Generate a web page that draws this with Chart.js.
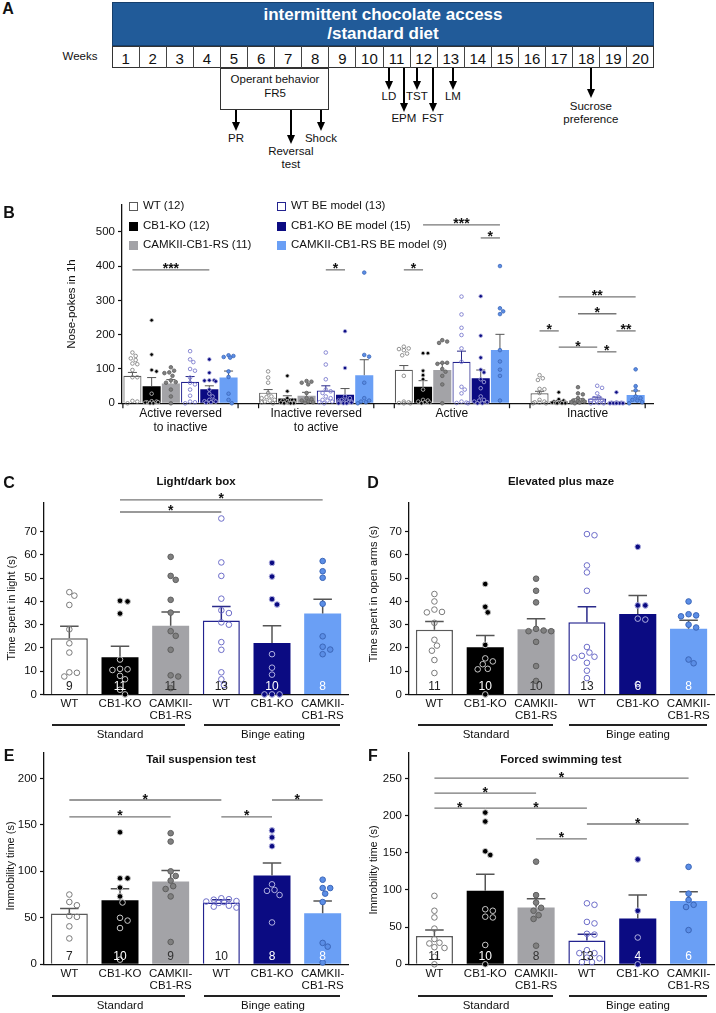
<!DOCTYPE html>
<html>
<head>
<meta charset="utf-8">
<title>Binge eating figure</title>
<script src="https://cdn.jsdelivr.net/npm/chart.js@4.4.1/dist/chart.umd.min.js"></script>
<style>
  body { margin: 0; background: #fff; }
  #fig { position: relative; width: 716px; height: 1013px; overflow: hidden;
         font-family: "Liberation Sans", Arial, Helvetica, sans-serif; color: #111; }
  .t { position: absolute; white-space: nowrap; transform: translate(-50%, -50%); line-height: 1; }
  .tl { position: absolute; white-space: nowrap; transform: translateY(-50%); line-height: 1; }
  .yt { position: absolute; white-space: nowrap; transform: translate(-50%, -50%) rotate(-90deg); line-height: 1; }
  .bx { position: absolute; box-sizing: border-box; }
  canvas { position: absolute; }
</style>
</head>
<body>
<div id="fig">
  <canvas id="chartB" width="716" height="250" style="left:0;top:190px;width:716px;height:250px"></canvas>
  <canvas id="chartC" width="356" height="260" style="left:0;top:470px;width:356px;height:260px"></canvas>
  <canvas id="chartD" width="360" height="260" style="left:356px;top:470px;width:360px;height:260px"></canvas>
  <canvas id="chartE" width="356" height="260" style="left:0;top:740px;width:356px;height:260px"></canvas>
  <canvas id="chartF" width="360" height="260" style="left:356px;top:740px;width:360px;height:260px"></canvas>
</div>
<script>
// Grupos y etiquetas
const groupNames = ['WT', 'CB1-KO', 'CAMKII-CB1-RS', 'WT BE model', 'CB1-KO BE model', 'CAMKII-CB1-RS BE model'];
const legendN = [12, 12, 11, 13, 15, 9];
const xTickLabels = ['WT', 'CB1-KO', ['CAMKII-', 'CB1-RS'], 'WT', 'CB1-KO', ['CAMKII-', 'CB1-RS']];
const dietLabels = ['Standard', 'Binge eating'];
const weeks = [1, 2, 3, 4, 5, 6, 7, 8, 9, 10, 11, 12, 13, 14, 15, 16, 17, 18, 19, 20];

// Panel B: nose-pokes in 1h
const bMeasures = [['Active reversed', 'to inactive'], ['Inactive reversed', 'to active'], 'Active', 'Inactive'];
const bMeans = [
    [80, 31, 98, 29],
    [50, 14, 48, 5],
    [58, 22, 97, 9],
    [63, 37, 121, 14],
    [41, 25, 73, 3],
    [75, 82, 155, 24]
];
const bSem = [
    [10, 9, 12, 6],
    [25, 8, 18, 3],
    [11, 10, 20, 4],
    [15, 14, 31, 4],
    [10, 18, 24, 2],
    [19, 45, 46, 12]
];
const bActiveReversed = [
    [148, 138, 131, 126, 116, 114, 97, 76, 76, 7, 5, 0],
    [242, 142, 97, 93, 28, 6, 5, 3, 3, 2, 0, 0],
    [105, 95, 90, 88, 80, 67, 62, 60, 40, 20, 0],
    [152, 128, 120, 100, 95, 75, 60, 55, 40, 22, 5, 3, 0],
    [128, 89, 67, 67, 66, 64, 40, 28, 20, 10, 8, 6, 5, 3, 2],
    [140, 138, 135, 133, 93, 77, 28, 10, 0]
];
const bInactiveReversed = [
    [93, 75, 60, 30, 20, 18, 15, 10, 8, 5, 3, 0],
    [80, 35, 15, 10, 8, 5, 3, 2, 1, 0, 0, 0],
    [65, 63, 60, 55, 30, 15, 12, 8, 5, 3, 2],
    [148, 113, 70, 40, 35, 30, 20, 15, 10, 8, 5, 3, 0],
    [210, 103, 20, 15, 10, 8, 8, 5, 5, 3, 3, 2, 0, 0, 0],
    [381, 141, 136, 60, 15, 8, 5, 3, 0]
];
const bActive = [
    [165, 160, 158, 155, 145, 140, 80, 5, 3, 1, 0, 0],
    [146, 146, 95, 82, 70, 40, 10, 8, 5, 3, 2, 0],
    [184, 180, 176, 118, 118, 115, 100, 92, 80, 55, 0],
    [311, 259, 220, 199, 160, 121, 48, 40, 29, 5, 2, 1, 0],
    [312, 197, 133, 98, 90, 70, 62, 44, 20, 10, 8, 5, 3, 0, 0],
    [400, 277, 268, 260, 155, 122, 98, 80, 8]
];
const bInactive = [
    [82, 73, 68, 42, 41, 30, 10, 5, 3, 2, 0, 0],
    [32, 12, 8, 5, 3, 3, 2, 2, 1, 0, 0, 0],
    [47, 29, 26, 15, 10, 8, 6, 5, 3, 2, 0],
    [51, 45, 29, 18, 15, 10, 8, 5, 3, 2, 1, 0, 0],
    [32, 3, 2, 2, 1, 1, 1, 0, 0, 0, 0, 0, 0, 0, 0],
    [99, 50, 38, 20, 15, 10, 8, 3, 0]
];
// [medida, grupo desde, grupo hasta, altura, etiqueta]
const bSig = [
    [0, 0, 4, 389, '***'], [1, 3, 4, 389, '*'], [2, 0, 1, 389, '*'],
    [2, 1, 5, 520, '***'], [2, 4, 5, 482, '*'],
    [3, 1, 5, 310, '**'], [3, 2, 4, 261, '*'], [3, 0, 1, 211, '*'],
    [3, 4, 5, 211, '**'], [3, 1, 3, 164, '*'], [3, 3, 4, 150, '*']
];

// Panel C: light/dark box
const cMeans = [24.2, 16, 29.5, 31.8, 22.1, 34.8];
const cSem = [5.1, 4.7, 6.0, 6.0, 7.4, 6.2];
const cPoints = [
    [44, 42.5, 38.5, 28, 22, 18, 9.5, 9.3, 7.7],
    [40.3, 40, 34.8, 15, 11, 10.8, 10.5, 8, 6.5, 2, 0],
    [59.2, 51, 49.3, 40.7, 35.2, 27.2, 25.2, 19.2, 8.2, 7.7, 2.7],
    [75.7, 56.8, 51, 41.2, 36.2, 35, 31, 30, 22.5, 19.2, 9.5, 6.5, 4],
    [56.6, 50.7, 41, 38.7, 17.3, 11.5, 8.5, 0, 0, 0],
    [57.4, 53, 50.2, 39, 25, 20.5, 19.3, 17.3]
];
const cSig = [[1, 3, 78.5, '*'], [1, 5, 83.7, '*']];

// Panel D: elevated plus maze
const dMeans = [27.8, 20.3, 28, 31.1, 34.6, 28.3];
const dSem = [3.6, 5.0, 4.6, 6.6, 8.0, 3.6];
const dPoints = [
    [43.2, 40, 36.5, 35.5, 35.3, 30.8, 23.5, 21, 18.8, 14.8, 9.2],
    [47.5, 37.7, 35.3, 21.3, 15.5, 14.2, 13, 11, 10.8, 0],
    [49.8, 44.6, 39.6, 28.2, 27.5, 27.2, 27.2, 22.6, 12.2, 5.8],
    [69, 68.5, 55.5, 52.5, 44.6, 20.4, 18, 16.6, 16.2, 15.8, 13.6, 10.2, 7],
    [63.5, 38.3, 38.3, 32.6, 32.2, 4.5],
    [40, 34.5, 34, 33.6, 30, 28.8, 15, 13.4]
];
const dSig = [];

// Panel E: tail suspension test
const eMeans = [54.5, 69, 89, 66.5, 95.5, 55];
const eSem = [5.5, 12.3, 12, 3, 13.5, 13];
const ePoints = [
    [75, 67, 63.5, 52, 51, 40.8, 27.8],
    [142, 92.5, 92.5, 82.5, 73, 66.5, 50, 47, 39, 5],
    [141, 132, 100, 95, 90, 84, 81, 73, 24],
    [71, 70, 69.5, 68, 67.5, 67, 66, 63, 62, 61],
    [144, 136.5, 127, 86, 80, 79, 74.5, 45],
    [91, 82, 82, 76, 67, 23, 19, 2]
];
const eSig = [[0, 3, 176.7, '*'], [0, 2, 158.6, '*'], [3, 4, 158.6, '*'], [4, 5, 176.7, '*']];

// Panel F: forced swimming test
const fMeans = [38, 99, 76.5, 32, 61.5, 85];
const fSem = [8, 22, 11.5, 8.5, 31.5, 12.5];
const fPoints = [
    [92, 72, 63, 48, 34, 29, 28, 23, 22, 10, 0],
    [204, 192, 152, 147, 74, 72, 64, 63, 26, 0],
    [138, 93, 83, 76, 72, 66, 61, 25],
    [82, 80, 57, 55, 41, 40, 19, 15, 15, 9, 8, 3, 3],
    [141, 72, 36, 0],
    [131, 95, 86.5, 80, 77, 46]
];
const fSig = [[0, 5, 250.4, '*'], [0, 2, 230.2, '*'], [0, 1, 210, '*'], [1, 3, 210, '*'], [2, 3, 168.7, '*'], [3, 5, 188.6, '*']];

// Estilos por grupo
const groupFill = ['#ffffff', '#000000', '#a3a3a7', '#ffffff', '#0b0b82', '#6a9ff5'];
const groupEdge = ['#5a5a5a', '#000000', '#a3a3a7', '#23238f', '#0b0b82', '#6a9ff5'];
const groupEdgeW = [1.5, 0, 0, 1.5, 0, 0];
const dotFill = [null, '#000000', '#808080', null, '#0b0b82', '#5b8ee6'];
const dotEdge = ['#7a7a7a', '#c8c8c8', '#5e5e5e', '#6d6dc9', '#b0b0e0', '#3b66b8'];
const nColor = ['#222', '#fff', '#333', '#222', '#fff', '#fff'];
const errColor = ['#555', '#555', '#555', '#2a2a8a', '#555', '#555'];

const FONT = '"Liberation Sans", Arial, Helvetica, sans-serif';
Chart.defaults.font.family = FONT;
Chart.defaults.color = '#111';

const fig = document.getElementById('fig');

function text(str, cx, cy, style, cls) {
    const el = document.createElement('div');
    el.className = cls || 't';
    el.textContent = str;
    el.style.left = cx + 'px';
    el.style.top = cy + 'px';
    Object.assign(el.style, style || {});
    fig.appendChild(el);
    return el;
}
function rect(x, y, w, h, style) {
    const el = document.createElement('div');
    el.className = 'bx';
    Object.assign(el.style, { left: x + 'px', top: y + 'px', width: w + 'px', height: h + 'px' }, style || {});
    fig.appendChild(el);
    return el;
}
function arrow(x, y1, y2) {
    rect(x - 0.8, y1, 1.6, y2 - y1 - 7, { background: '#000' });
    rect(x - 4, y2 - 9, 0, 0, { borderLeft: '4px solid transparent', borderRight: '4px solid transparent', borderTop: '9px solid #000' });
}

// ---------- Panel A: linea de tiempo ----------
const weekLeft = 112, weekWidth = 27.1, weekTop = 46, weekHeight = 22;
text('A', 8, 9, { fontWeight: 'bold', fontSize: '16px' });
rect(weekLeft, 2, weekWidth * weeks.length, 44, { background: '#215b99', border: '1px solid #163f6c' });
text('intermittent chocolate access', weekLeft + weekWidth * 10, 14, { color: '#fff', fontWeight: 'bold', fontSize: '17px' });
text('/standard diet', weekLeft + weekWidth * 10, 33, { color: '#fff', fontWeight: 'bold', fontSize: '17px' });
rect(weekLeft, weekTop, weekWidth * weeks.length, weekHeight, { border: '1px solid #333', background: '#fff' });
weeks.forEach((w, i) => {
    if (i > 0) rect(weekLeft + i * weekWidth - 0.5, weekTop, 1, weekHeight, { background: '#444' });
    text(String(w), weekLeft + (i + 0.5) * weekWidth, weekTop + 11.5, { fontSize: '15px' });
});
text('Weeks', 80, 57, { fontSize: '11.5px' });
rect(weekLeft + 4 * weekWidth, 68, 4 * weekWidth, 42, { border: '1px solid #333', background: '#fff' });
text('Operant behavior', 275, 80, { fontSize: '11.5px' });
text('FR5', 275, 94, { fontSize: '11.5px' });

const sessions = [
    { at: 5.58, from: 110, to: 131, lines: ['PR'], y: 139 },
    { at: 7.6, from: 110, to: 144, lines: ['Reversal', 'test'], y: 152 },
    { at: 8.71, from: 110, to: 131, lines: ['Shock'], y: 139 },
    { at: 11.22, from: 68, to: 90, lines: ['LD'], y: 97 },
    { at: 11.77, from: 68, to: 112, lines: ['EPM'], y: 119 },
    { at: 12.25, from: 68, to: 90, lines: ['TST'], y: 97 },
    { at: 12.84, from: 68, to: 112, lines: ['FST'], y: 119 },
    { at: 13.58, from: 68, to: 90, lines: ['LM'], y: 97 },
    { at: 18.67, from: 68, to: 98, lines: ['Sucrose', 'preference'], y: 107 }
];
sessions.forEach(s => {
    const x = weekLeft + (s.at - 1) * weekWidth;
    arrow(x, s.from, s.to);
    s.lines.forEach((l, k) => text(l, x, s.y + k * 12.8, { fontSize: '11.5px' }));
});

// ---------- Textos de paneles ----------
text('B', 9, 213, { fontWeight: 'bold', fontSize: '16px' });
text('C', 9, 483, { fontWeight: 'bold', fontSize: '16px' });
text('D', 373, 483, { fontWeight: 'bold', fontSize: '16px' });
text('E', 9, 756, { fontWeight: 'bold', fontSize: '16px' });
text('F', 373, 756, { fontWeight: 'bold', fontSize: '16px' });
text('Light/dark box', 196, 482, { fontWeight: 'bold', fontSize: '11.5px' });
text('Elevated plus maze', 561, 482, { fontWeight: 'bold', fontSize: '11.5px' });
text('Tail suspension test', 201, 760, { fontWeight: 'bold', fontSize: '11.5px' });
text('Forced swimming test', 561, 760, { fontWeight: 'bold', fontSize: '11.5px' });
text('Nose-pokes in 1h', 72, 304, { fontSize: '11.5px' }, 'yt');
text('Time spent in light (s)', 11, 608, { fontSize: '11px' }, 'yt');
text('Time spent in open arms (s)', 373, 594, { fontSize: '11px' }, 'yt');
text('Immobility time (s)', 10, 866, { fontSize: '11px' }, 'yt');
text('Immobility time (s)', 373, 870, { fontSize: '11px' }, 'yt');

// Leyenda B
const legendCols = [[0, 1, 2], [3, 4, 5]];
const legendX = [129, 277];
const legendY = [206, 226, 245];
legendCols.forEach((col, c) => col.forEach((g, r) => {
    rect(legendX[c], legendY[r] - 4.5, 9, 9, {
        background: groupFill[g],
        border: groupEdgeW[g] ? '1.5px solid ' + groupEdge[g] : 'none'
    });
    text(groupNames[g] + ' (' + legendN[g] + ')', legendX[c] + 14, legendY[r], { fontSize: '11.5px' }, 'tl');
}));

// Dieta bajo C-F
function dietRow(lines, labelX, y) {
    lines.forEach((ln, k) => {
        rect(ln[0], y - 1, ln[1] - ln[0], 2, { background: '#222' });
        text(dietLabels[k], labelX[k], y + 10, { fontSize: '11.5px' });
    });
}
dietRow([[52, 185], [204, 340]], [120, 273], 725);
dietRow([[418, 553], [569, 707]], [486, 638], 725);
dietRow([[52, 185], [204, 340]], [120, 273], 996);
dietRow([[418, 553], [569, 707]], [486, 638], 996);

// ---------- Plugin: puntos, error, significancia ----------
function swarm(ys, r, hw) {
    const order = ys.map((y, i) => i).sort((a, b) => ys[a] - ys[b]);
    const placed = [];
    const xs = new Array(ys.length).fill(0);
    const step = r * 0.9;
    const kmax = Math.max(0, Math.floor(hw / step));
    order.forEach(i => {
        let best = 0, bestOv = Infinity;
        for (let k = 0; k <= 2 * kmax; k++) {
            const off = (k % 2 ? 1 : -1) * Math.ceil(k / 2) * step;
            let ov = 0;
            for (const p of placed) {
                const d = Math.hypot(p.x - off, p.y - ys[i]);
                if (d < 2 * r + 0.5) ov += 2 * r + 0.5 - d;
            }
            if (ov === 0) { best = off; bestOv = 0; break; }
            if (ov < bestOv) { bestOv = ov; best = off; }
        }
        xs[i] = best;
        placed.push({ x: best, y: ys[i] });
    });
    return xs;
}

const overlayData = {};
const overlay = {
    id: 'overlay',
    afterDatasetsDraw(chart) {
        const o = overlayData[chart.canvas.id];
        const ctx = chart.ctx;
        const ys = chart.scales.y;
        const base = ys.getPixelForValue(0);
        ctx.save();
        chart.data.datasets.forEach((ds, d) => {
            chart.getDatasetMeta(d).data.forEach((bar, i) => {
                const g = o.byDataset ? d : i;
                const raw = ds.data[i];
                const mean = typeof raw === 'object' ? raw.y : raw;
                // barra de error (solo hacia arriba)
                const ey = ys.getPixelForValue(mean + o.sem[d][i]);
                ctx.strokeStyle = errColor[g];
                ctx.lineWidth = o.errW;
                ctx.beginPath();
                ctx.moveTo(bar.x, bar.y);
                ctx.lineTo(bar.x, ey);
                ctx.moveTo(bar.x - bar.width * 0.25, ey);
                ctx.lineTo(bar.x + bar.width * 0.25, ey);
                ctx.stroke();
                // puntos individuales
                const vals = o.points[d][i];
                const py = vals.map(v => ys.getPixelForValue(v));
                const px = swarm(py, o.r, bar.width / 2 - o.r);
                ctx.lineWidth = o.dotW;
                py.forEach((y, k) => {
                    ctx.beginPath();
                    ctx.arc(bar.x + px[k], y, o.r, 0, Math.PI * 2);
                    if (dotFill[g]) { ctx.fillStyle = dotFill[g]; ctx.fill(); }
                    ctx.strokeStyle = dotEdge[g];
                    ctx.stroke();
                });
                if (o.showN) {
                    ctx.fillStyle = nColor[g];
                    ctx.font = '12px ' + FONT;
                    ctx.textAlign = 'center';
                    ctx.textBaseline = 'middle';
                    ctx.fillText(String(vals.length), bar.x, base - 7.5);
                }
                if (o.byDataset && d === 0) {
                    // marcas de grupo en el eje x
                }
            });
        });
        // marcas en los bordes de cada grupo (panel B)
        if (o.groupTicks) {
            const first = chart.getDatasetMeta(0).data;
            const last = chart.getDatasetMeta(chart.data.datasets.length - 1).data;
            ctx.strokeStyle = '#111';
            ctx.lineWidth = 1.2;
            first.forEach((b, i) => {
                const xl = b.x - b.width / 2 - 0.5, xr = last[i].x + last[i].width / 2 + 0.5;
                ctx.beginPath();
                ctx.moveTo(xl, base); ctx.lineTo(xl, base + 5);
                ctx.moveTo(xr, base); ctx.lineTo(xr, base + 5);
                ctx.stroke();
            });
        }
        // lineas de significancia
        o.sig.forEach(s => {
            const xa = chart.getDatasetMeta(s.a[0]).data[s.a[1]].x;
            const xb = chart.getDatasetMeta(s.b[0]).data[s.b[1]].x;
            const y = ys.getPixelForValue(s.y);
            ctx.strokeStyle = '#777';
            ctx.lineWidth = 1.3;
            ctx.beginPath();
            ctx.moveTo(xa, y); ctx.lineTo(xb, y);
            ctx.stroke();
            ctx.fillStyle = '#111';
            ctx.font = 'bold 14px ' + FONT;
            ctx.textAlign = 'center';
            ctx.textBaseline = 'alphabetic';
            ctx.fillText(s.label, (xa + xb) / 2, y + 3.5);
        });
        ctx.restore();
    }
};

function yScale(max, step, width) {
    return {
        min: 0, max: max,
        afterBuildTicks: s => { s.ticks = s.ticks.filter(t => Math.abs(t.value / step - Math.round(t.value / step)) < 1e-9); },
        ticks: { stepSize: step, color: '#111', font: { size: 11.5 }, padding: 3 },
        grid: { drawOnChartArea: false, drawTicks: true, tickLength: 4, tickColor: '#111', tickWidth: 1.2 },
        border: { color: '#111', width: 1.3 },
        afterFit: s => { s.width = width; }
    };
}

// ---------- Panel B ----------
const bByMeasure = [bActiveReversed, bInactiveReversed, bActive, bInactive];
overlayData.chartB = {
    byDataset: true, groupTicks: true, showN: false, r: 1.8, dotW: 0.8, errW: 1,
    sem: bSem,
    points: groupNames.map((g, k) => bByMeasure.map(m => m[k])),
    sig: bSig.map(s => ({ a: [s[1], s[0]], b: [s[2], s[0]], y: s[3], label: s[4] }))
};
new Chart(document.getElementById('chartB'), {
    type: 'bar',
    data: {
        datasets: groupNames.map((g, k) => ({
            label: g,
            data: bMeans[k].map((v, i) => ({ x: i, y: v })),
            backgroundColor: groupFill[k],
            borderColor: groupEdge[k],
            borderWidth: groupEdgeW[k] * 0.8,
            categoryPercentage: 0.85,
            barPercentage: 0.94
        }))
    },
    options: {
        responsive: false, animation: false, events: [],
        layout: { padding: { top: 15, right: 63, left: 0, bottom: 0 } },
        plugins: { legend: { display: false }, tooltip: { enabled: false } },
        scales: {
            x: {
                type: 'linear', offset: false, min: -0.431, max: 3.482,
                afterBuildTicks: s => { s.ticks = bMeasures.map((m, i) => ({ value: i })); },
                ticks: { callback: (v, i) => bMeasures[i], autoSkip: false, maxRotation: 0, minRotation: 0,
                         padding: 3, color: '#111', font: { size: 12, lineHeight: 1.17 } },
                grid: { display: false, drawTicks: false },
                border: { display: true, color: '#111', width: 1.3 },
                afterFit: s => { s.height = 36.7; }
            },
            y: yScale(578, 100, 122)
        }
    },
    plugins: [overlay]
});

// ---------- Paneles C-F ----------
function panelChart(id, means, sem, pts, sig, yMax, yStep, padTop, padRight, yWidth, xHeight) {
    overlayData[id] = {
        byDataset: false, groupTicks: false, showN: true, r: 2.8, dotW: 1, errW: 1.5,
        sem: [sem], points: [pts],
        sig: sig.map(s => ({ a: [0, s[0]], b: [0, s[1]], y: s[2], label: s[3] }))
    };
    return new Chart(document.getElementById(id), {
        type: 'bar',
        data: {
            labels: xTickLabels,
            datasets: [{
                data: means,
                backgroundColor: groupFill,
                borderColor: groupEdge,
                borderWidth: groupEdgeW,
                categoryPercentage: 1,
                barPercentage: 0.73
            }]
        },
        options: {
            responsive: false, animation: false, events: [],
            layout: { padding: { top: padTop, right: padRight, left: 0, bottom: 0 } },
            plugins: { legend: { display: false }, tooltip: { enabled: false } },
            scales: {
                x: {
                    grid: { display: false, drawTicks: false },
                    border: { display: true, color: '#111', width: 1.3 },
                    ticks: { color: '#111', font: { size: 11.5, lineHeight: 1 }, padding: 4,
                             maxRotation: 0, minRotation: 0, autoSkip: false },
                    afterFit: s => { s.height = xHeight; }
                },
                y: yScale(yMax, yStep, yWidth)
            }
        },
        plugins: [overlay]
    });
}

panelChart('chartC', cMeans, cSem, cPoints, cSig, 82.5, 10, 32.7, 8, 44, 35.6);
panelChart('chartD', dMeans, dSem, dPoints, dSig, 82.5, 10, 32.7, 2, 53, 35.6);
panelChart('chartE', eMeans, eSem, ePoints, eSig, 228, 50, 12.3, 8, 44, 35.7);
panelChart('chartF', fMeans, fSem, fPoints, fSig, 285, 50, 12.3, 2, 53, 35.7);
</script>
</body>
</html>
